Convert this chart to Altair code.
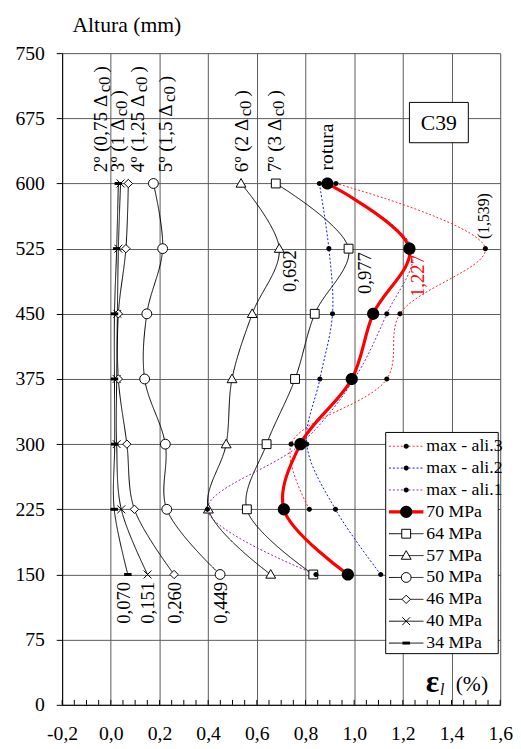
import altair as alt
import pandas as pd

# ---------------- data ----------------
heights = [150, 225, 300, 375, 450, 525, 600]
mpa34 = [0.070, 0.014, 0.016, 0.015, 0.015, 0.024, 0.031]
mpa40 = [0.151, 0.043, 0.024, 0.024, 0.027, 0.031, 0.040]
mpa46 = [0.260, 0.097, 0.066, 0.031, 0.031, 0.062, 0.072]
mpa50 = [0.449, 0.230, 0.224, 0.139, 0.148, 0.213, 0.175]
mpa57 = [0.657, 0.401, 0.474, 0.498, 0.581, 0.692, 0.535]
mpa64 = [0.832, 0.559, 0.640, 0.757, 0.838, 0.977, 0.678]
mpa70 = [0.974, 0.711, 0.779, 0.990, 1.078, 1.227, 0.890]
ali1 = [0.843, 0.397, 0.780, 1.000, 1.134, 1.239, 0.890]
ali2 = [1.109, 0.923, 0.805, 0.859, 0.911, 0.896, 0.857]
ali3_heights = [225, 300, 375, 450, 525, 600]
ali3 = [0.816, 0.741, 1.134, 1.188, 1.539, 0.925]

legend_names = ["max - ali.3", "max - ali.2", "max - ali.1", "70 MPa", "64 MPa",
                "57 MPa", "50 MPa", "46 MPa", "40 MPa", "34 MPa"]

# stage labels at the top, value labels, other annotations
stage_main = ["2º (0,75 Δ", "3º (1 Δ", "4º (1,25 Δ", "5º (1,5 Δ", "6º (2 Δ", "7º (3 Δ"]
stage_x = [-0.038, 0.031, 0.112, 0.229, 0.540, 0.677]
value_text = ["0,070", "0,151", "0,260", "0,449", "0,692", "0,977"]
value_x = [0.054, 0.155, 0.263, 0.452, 0.738, 1.044]
value_h = [141.6, 141.6, 141.6, 141.6, 523.4, 521.1]

major_x = [-0.2, 0.0, 0.2, 0.4, 0.6, 0.8, 1.0, 1.2, 1.4, 1.6]
major_y = [0, 75, 150, 225, 300, 375, 450, 525, 600, 675, 750]
minor_x = [-0.2, -0.15, -0.1, -0.05, 0.0, 0.05, 0.1, 0.15, 0.2, 0.25, 0.3, 0.35, 0.4,
           0.45, 0.5, 0.55, 0.6, 0.65, 0.7, 0.75, 0.8, 0.85, 0.9, 0.95, 1.0, 1.05,
           1.1, 1.15, 1.2, 1.25, 1.3, 1.35, 1.4, 1.45, 1.5, 1.55, 1.6]

# ---------------- tables ----------------
series_data = [
    ("34 MPa", heights, mpa34), ("40 MPa", heights, mpa40), ("46 MPa", heights, mpa46),
    ("50 MPa", heights, mpa50), ("57 MPa", heights, mpa57), ("64 MPa", heights, mpa64),
    ("max - ali.1", heights, ali1), ("max - ali.2", heights, ali2),
    ("max - ali.3", ali3_heights, ali3), ("70 MPa", heights, mpa70),
]
rows = []
for name, hs, es in series_data:
    for h, e in zip(hs, es):
        rows.append({"series": name, "h": h, "e": e})
df = pd.DataFrame(rows)

# ---------------- layout helpers ----------------
W, H = 445, 662
PX_MM = H / 750
PX_E = W / 1.8
SERIF = "Liberation Serif"

# legend rows placed on the plot's own height scale
legend_df = pd.DataFrame({
    "series": legend_names,
    "lh": [(H - (399.3 + 22.22 * i)) / PX_MM for i in range(len(legend_names))],
})

# ---------------- styles ----------------
line_colors = ["#ff2020", "#1010ff", "#8a2a9a", "#ff0000"] + ["#000000"] * 6
line_dashes = [[2, 2], [2, 2], [2, 2]] + [[1, 0]] * 7


def circ(r):
    return f"M{-r},0A{r},{r} 0 1,0 {r},0A{r},{r} 0 1,0 {-r},0Z"


marker_paths = [
    circ(0.52), circ(0.52), circ(0.52), circ(1.24),
    "M-0.9,-0.9H0.9V0.9H-0.9Z",
    "M0,-1.0L1.0,0.75L-1.0,0.75Z",
    circ(1.0),
    "M0,-0.85L0.85,0L0,0.85L-0.85,0Z",
    "M-0.8,-0.8L0.8,0.8M-0.8,0.8L0.8,-0.8",
    "M-0.76,-0.3H0.76V0.3H-0.76Z",
]
open_names = ["64 MPa", "57 MPa", "50 MPa", "46 MPa", "40 MPa"]
filled_names = ["max - ali.3", "max - ali.2", "max - ali.1", "70 MPa", "34 MPa"]
thin_names = [n for n in legend_names if n != "70 MPa"]

xs = alt.Scale(domain=[-0.2, 1.6], nice=False, zero=False)
ys = alt.Scale(domain=[0, 750], nice=False, zero=False)
color_s = alt.Scale(domain=legend_names, range=line_colors)
dash_s = alt.Scale(domain=legend_names, range=line_dashes)
shape_s = alt.Scale(domain=legend_names, range=marker_paths)

GRID = "#5a5a5a"
label_expr = "replace(replace(format(datum.value, '.1f'), '.', ','), '\u2212', '-')"
x_axis = alt.Axis(orient="bottom", values=major_x, labelExpr=label_expr, title=None,
                  grid=True, gridColor=GRID, gridWidth=1, gridOpacity=1,
                  ticks=False, tickSize=0, domain=True, domainColor="black", domainWidth=1,
                  labelFont=SERIF, labelFontSize=20, labelColor="black",
                  labelPadding=19, labelFlush=False, labelOverlap=False)
y_axis = alt.Axis(orient="left", values=major_y, title="Altura (mm)", titleAngle=0,
                  titleX=10, titleY=-29,
                  titleAlign="left", titleBaseline="middle", titleFont=SERIF,
                  titleFontSize=22, titleFontWeight="normal", titleColor="black",
                  grid=True, gridColor=GRID, gridWidth=1, gridOpacity=1,
                  ticks=True, tickSize=6, tickColor="black", domain=True,
                  domainColor="black", domainWidth=1,
                  labelFont=SERIF, labelFontSize=20, labelColor="black",
                  labelPadding=12, labelFlush=False, labelOverlap=False)


# secondary layers: no axis settings of their own (merged into the main axes)
def X(f="e"):
    return alt.X(f"{f}:Q", scale=xs)


def Y(f="h"):
    return alt.Y(f"{f}:Q", scale=ys)


base = alt.Chart(df)

thin_lines = base.transform_filter(
    alt.FieldOneOfPredicate(field="series", oneOf=thin_names)
).mark_line(interpolate="catmull-rom", strokeWidth=1).encode(
    x=alt.X("e:Q", scale=xs, axis=x_axis),
    y=alt.Y("h:Q", scale=ys, axis=y_axis),
    color=alt.Color("series:N", scale=color_s, legend=None),
    strokeDash=alt.StrokeDash("series:N", scale=dash_s, legend=None),
    order=alt.Order("h:Q"),
)
red_line = base.transform_filter(alt.datum.series == "70 MPa").mark_line(
    interpolate="catmull-rom", strokeWidth=3.2, color="#ff0000"
).encode(x=X(), y=Y(), order=alt.Order("h:Q"))

open_pts = base.transform_filter(
    alt.FieldOneOfPredicate(field="series", oneOf=open_names)
).mark_point(filled=True, fill="white", stroke="black", strokeWidth=1, size=100, opacity=1).encode(
    x=X(), y=Y(), shape=alt.Shape("series:N", scale=shape_s, legend=None))
filled_pts = base.transform_filter(
    alt.FieldOneOfPredicate(field="series", oneOf=filled_names)
).mark_point(filled=True, fill="black", strokeWidth=0, size=100, opacity=1).encode(
    x=X(), y=Y(), shape=alt.Shape("series:N", scale=shape_s, legend=None))

# inward minor ticks on the bottom axis line
minor_ticks = alt.Chart(pd.DataFrame({"m": minor_x})).mark_rule(
    color="black", strokeWidth=1).encode(x=X("m"), y=alt.value(H), y2=alt.value(H - 5))

# ---------------- annotations ----------------
CW = {"º": 0.31, " ": 0.25, "(": 0.333, ")": 0.333, ",": 0.25, "Δ": 0.612, "c": 0.444}


def tw(s, size):
    return sum(CW.get(ch, 0.5) for ch in s) * size


base_h = 613
MAIN_FS, SUB_FS = 19.5, 17
main_rows, sub_rows, close_rows = [], [], []
for t, x in zip(stage_main, stage_x):
    w1 = tw(t, MAIN_FS) + 3
    w2 = tw("c0", SUB_FS) + 4
    main_rows.append({"t": t, "e": x, "h": base_h})
    sub_rows.append({"t": "c0", "e": x + 4 / PX_E, "h": base_h + w1 / PX_MM})
    close_rows.append({"t": ")", "e": x, "h": base_h + (w1 + w2) / PX_MM})
stage_df = pd.DataFrame(main_rows + close_rows)
sub_df = pd.DataFrame(sub_rows)
val_df = pd.DataFrame({"t": value_text, "e": value_x, "h": value_h})


def text_layer(data, **kw):
    return alt.Chart(data).mark_text(**kw).encode(x=X(), y=Y(), text="t:N")


t_stage = text_layer(stage_df, angle=270, align="left", baseline="middle",
                     font=SERIF, fontSize=MAIN_FS, color="black")
t_sub = text_layer(sub_df, angle=270, align="left", baseline="middle",
                   font=SERIF, fontSize=SUB_FS, color="black")
t_vals = text_layer(val_df, angle=270, align="right", baseline="middle",
                    font=SERIF, fontSize=19, color="black")
t_red = text_layer(pd.DataFrame({"t": ["1,227"], "e": [1.262], "h": [517.7]}),
                   angle=270, align="right", baseline="middle", font=SERIF,
                   fontSize=19, color="#ff0000")
t_rot = text_layer(pd.DataFrame({"t": ["rotura"], "e": [0.888], "h": [615.0]}),
                   angle=270, align="left", baseline="middle", font=SERIF,
                   fontSize=20, color="black")
t_max = text_layer(pd.DataFrame({"t": ["(1,539)"], "e": [1.535], "h": [536.0]}),
                   angle=270, align="left", baseline="middle", font=SERIF,
                   fontSize=16, color="black")

c39_box = alt.Chart(pd.DataFrame({"x1": [1.227], "x2": [1.469], "y1": [646.9], "y2": [693.3]})
                    ).mark_rect(fill="white", stroke="black", strokeWidth=1).encode(
    x=X("x1"), x2="x2:Q", y=Y("y1"), y2="y2:Q")
t_c39 = text_layer(pd.DataFrame({"t": ["C39"], "e": [1.348], "h": [669.6]}),
                   align="center", baseline="middle", font=SERIF, fontSize=22, color="black")
t_eps = text_layer(pd.DataFrame({"t": ["ε"], "e": [1.322], "h": [26.0]}),
                   align="center", baseline="middle", font=SERIF, fontSize=32,
                   fontWeight="bold", color="black")
t_l = text_layer(pd.DataFrame({"t": ["l"], "e": [1.362], "h": [17.0]}),
                 align="center", baseline="middle", font=SERIF, fontSize=16,
                 fontStyle="italic", color="black")
t_pct = text_layer(pd.DataFrame({"t": ["(%)"], "e": [1.417], "h": [24.0]}),
                   align="left", baseline="middle", font=SERIF, fontSize=22, color="black")

# ---------------- legend ----------------
lbase = alt.Chart(legend_df)
leg_box = alt.Chart(pd.DataFrame({"a": [0]})).mark_rect(
    fill="white", stroke="black", strokeWidth=1).encode(
    x=alt.value(328.7), x2=alt.value(443), y=alt.value(385.3), y2=alt.value(610))
leg_rules = lbase.transform_filter(
    alt.FieldOneOfPredicate(field="series", oneOf=thin_names)
).mark_rule(strokeWidth=1).encode(
    x=alt.value(332), x2=alt.value(367), y=Y("lh"),
    color=alt.Color("series:N", scale=color_s, legend=None),
    strokeDash=alt.StrokeDash("series:N", scale=dash_s, legend=None))
leg_red = lbase.transform_filter(alt.datum.series == "70 MPa").mark_rule(
    strokeWidth=3.2, color="#ff0000").encode(x=alt.value(332), x2=alt.value(367), y=Y("lh"))
leg_open = lbase.transform_filter(
    alt.FieldOneOfPredicate(field="series", oneOf=open_names)
).mark_point(filled=True, fill="white", stroke="black", strokeWidth=1, size=100, opacity=1).encode(
    x=alt.value(349.5), y=Y("lh"), shape=alt.Shape("series:N", scale=shape_s, legend=None))
leg_filled = lbase.transform_filter(
    alt.FieldOneOfPredicate(field="series", oneOf=filled_names)
).mark_point(filled=True, fill="black", strokeWidth=0, size=100, opacity=1).encode(
    x=alt.value(349.5), y=Y("lh"), shape=alt.Shape("series:N", scale=shape_s, legend=None))
leg_text = lbase.mark_text(align="left", baseline="middle", font=SERIF, fontSize=18,
                           color="black").encode(x=alt.value(370), y=Y("lh"), text="series:N")

chart = alt.layer(
    thin_lines, red_line, open_pts, filled_pts, minor_ticks, t_stage, t_sub, t_vals,
    t_red, t_rot, t_max, c39_box, t_c39, t_eps, t_l, t_pct,
    leg_box, leg_rules, leg_red, leg_open, leg_filled, leg_text,
).properties(
    width=W, height=H,
    autosize=alt.AutoSizeParams(type="none"),
    padding={"left": 55, "top": 40, "right": 13, "bottom": 38},
).configure_view(stroke=None).configure(font=SERIF)

chart.save("out.html", embed_options={"renderer": "svg", "actions": False})
